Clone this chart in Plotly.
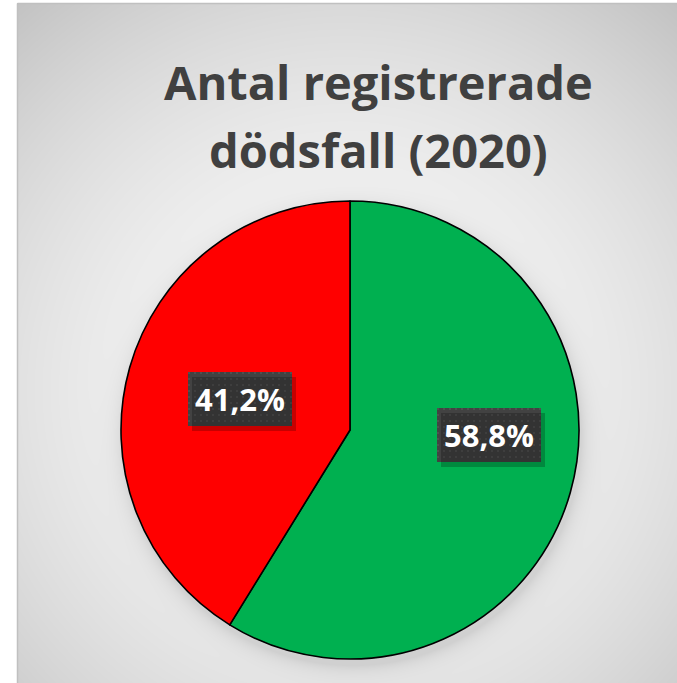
import numpy as np, zlib, struct, base64
import plotly.graph_objects as go

# ---- data ----
categories = ["Kategori 1", "Kategori 2"]
shares = [58.8, 41.2]
colors = ["#00B050", "#FF0000"]
title_lines = ["Antal registrerade", "dödsfall (2020)"]

FW, FH = 677, 683

# ---- helper: grayscale PNG as data URI ----
def make_png(arr):
    h, w = arr.shape
    raw = b"".join(b"\x00" + arr[i].tobytes() for i in range(h))
    def chunk(t, d):
        c = struct.pack(">I", len(d)) + t + d
        return c + struct.pack(">I", zlib.crc32(t + d) & 0xffffffff)
    png = b"\x89PNG\r\n\x1a\n" + chunk(b"IHDR", struct.pack(">IIBBBBB", w, h, 8, 0, 0, 0, 0))
    png += chunk(b"IDAT", zlib.compress(raw, 9)) + chunk(b"IEND", b"")
    return "data:image/png;base64," + base64.b64encode(png).decode()

# background: radial gradient + soft pie shadow
X0, Y0 = 17, 3
W, H = FW - X0, FH - Y0
yy, xx = np.mgrid[0:H, 0:W]
X = xx + X0
Y = yy + Y0
d = np.hypot(X - 345, Y - 390) / 520.0
val = 248 - 56 * np.clip(d, 0, 1.3) ** 2
ds = np.hypot(X - 352, Y - 436) - 229
val = val - 24 * np.exp(-np.clip(ds, 0, None) / 9.0)
bg = make_png(np.clip(val, 0, 255).astype(np.uint8))

# label box texture (dark with small dots)
BW, BH = 104, 54
by_, bx_ = np.mgrid[0:BH, 0:BW]
box = np.full((BH, BW), 66, dtype=np.uint8)
box[((bx_ % 6) < 2) & ((by_ % 6) < 2)] = 80
box_png = make_png(box)

# ---- pie geometry (pixels) ----
pcx, pcy, pr = 350, 430, 229

fig = go.Figure(go.Pie(
    labels=categories, values=shares, sort=False, direction="clockwise", rotation=0,
    marker=dict(colors=colors, line=dict(color="#000000", width=1.6)),
    textinfo="none", hoverinfo="label+percent", showlegend=False,
    domain=dict(x=[(pcx - pr) / FW, (pcx + pr) / FW],
                y=[1 - (pcy + pr) / FH, 1 - (pcy - pr) / FH]),
))

def fmt(v):
    return f"{v:.1f}".replace(".", ",") + "%"

label_pos = [(489, 435), (240, 399)]
annotations = []
images = [dict(source=bg, xref="paper", yref="paper", x=X0 / FW, y=1 - Y0 / FH,
               sizex=W / FW, sizey=H / FH, xanchor="left", yanchor="top",
               sizing="stretch", layer="below")]
bx, by = (X0 + 0.5) / FW, 1 - (Y0 + 0.5) / FH
shapes = [
    dict(type="line", xref="paper", yref="paper", x0=bx, x1=bx, y0=0, y1=by,
         line=dict(color="#c0c0c0", width=1.5), layer="below"),
    dict(type="line", xref="paper", yref="paper", x0=bx, x1=1, y0=by, y1=by,
         line=dict(color="#c0c0c0", width=1.5), layer="below"),
]
for v, (lx, ly) in zip(shares, label_pos):
    sx, sy = lx + 4, ly + 5
    shapes.append(dict(type="rect", xref="paper", yref="paper",
                       x0=(sx - BW / 2) / FW, x1=(sx + BW / 2) / FW,
                       y0=1 - (sy + BH / 2) / FH, y1=1 - (sy - BH / 2) / FH,
                       fillcolor="rgba(0,0,0,0.22)", line=dict(width=0), layer="above"))
    images.append(dict(source=box_png, xref="paper", yref="paper",
                       x=(lx - BW / 2) / FW, y=1 - (ly - BH / 2) / FH,
                       sizex=BW / FW, sizey=BH / FH, xanchor="left", yanchor="top",
                       sizing="stretch", layer="above"))
    annotations.append(dict(text=f"<b>{fmt(v)}</b>", x=lx / FW, y=1 - ly / FH, xref="paper", yref="paper",
                            showarrow=False, xanchor="center", yanchor="middle",
                            font=dict(family="Open Sans", size=31, color="#ffffff")))

for t, ty in zip(title_lines, [82, 150]):
    annotations.append(dict(text=f"<b>{t}</b>", x=378 / FW, y=1 - ty / FH, xref="paper", yref="paper",
                            showarrow=False, xanchor="center", yanchor="middle",
                            font=dict(family="Open Sans", size=47, color="#404040")))

fig.update_layout(
    width=FW, height=FH, margin=dict(l=0, r=0, t=0, b=0),
    paper_bgcolor="#ffffff", plot_bgcolor="#ffffff",
    images=images,
    shapes=shapes,
    annotations=annotations,
)
fig.write_html("out.html", config={"displayModeBar": False},
               post_script="document.body.style.margin='0px';document.body.style.overflow='hidden';"
                           "document.documentElement.style.overflow='hidden';")
